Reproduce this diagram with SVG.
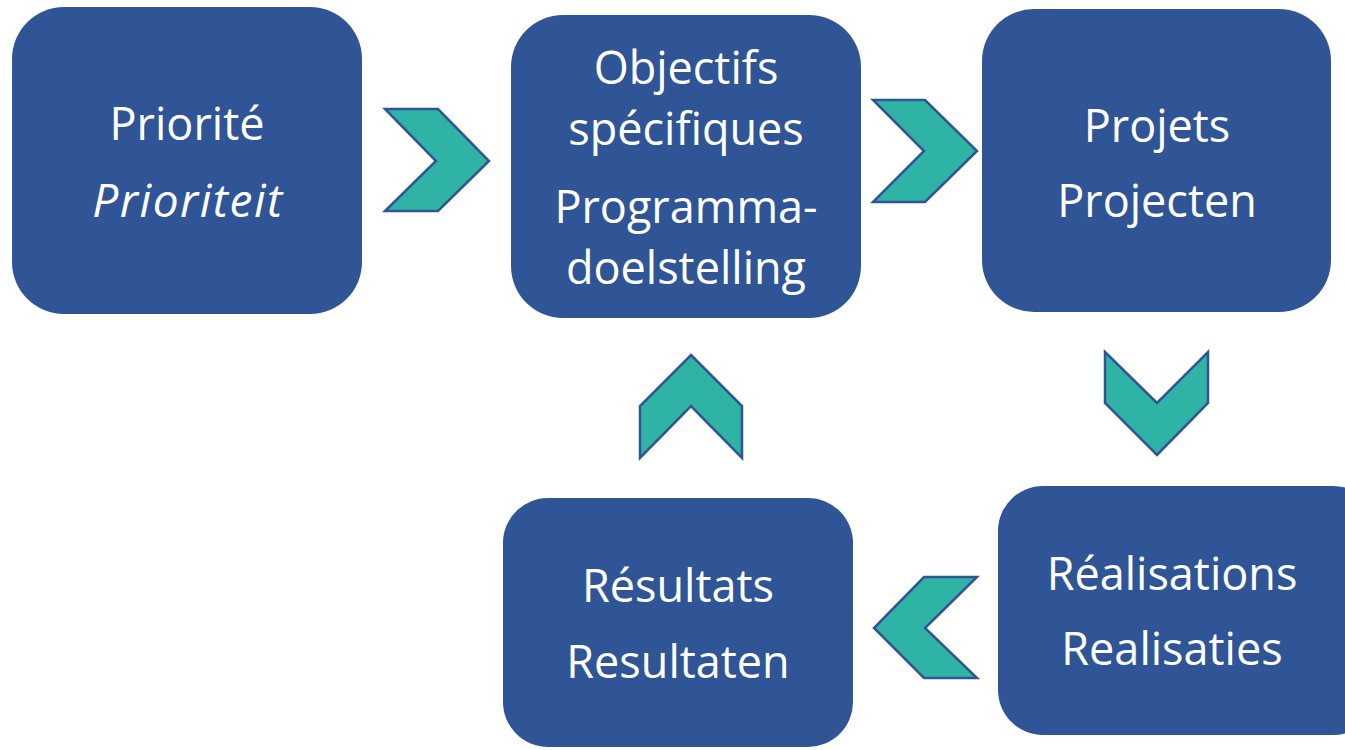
<svg xmlns="http://www.w3.org/2000/svg" width="1345" height="750" viewBox="0 0 1345 750">
<style>
.box{fill:#2F5597;}
.chev{fill:#2FB3A5;stroke:#2F5597;stroke-width:2.5;stroke-linejoin:miter;}
.t{font-family:"Open Sans","Liberation Sans",sans-serif;font-size:45px;fill:#FFFFFF;text-anchor:middle;}
.i{font-style:italic;font-size:46px;letter-spacing:1.5px;}
</style>
<rect width="1345" height="750" fill="#FFFFFF"/>
<g id="node-priorite">
<rect class="box" x="12" y="7" width="350" height="307" rx="52"/>
<text class="t" x="187" y="140">Priorité</text>
<text class="t i" x="188" y="217">Prioriteit</text>
</g>
<g id="node-objectifs">
<rect class="box" x="511" y="15" width="350" height="303" rx="52"/>
<text class="t" x="686" y="84">Objectifs</text>
<text class="t" x="686" y="145">spécifiques</text>
<text class="t" x="686" y="223">Programma-</text>
<text class="t" x="686" y="284">doelstelling</text>
</g>
<g id="node-projets">
<rect class="box" x="982" y="9" width="349" height="303" rx="52"/>
<text class="t" x="1157" y="142">Projets</text>
<text class="t" x="1157" y="217">Projecten</text>
</g>
<g id="node-realisations">
<rect class="box" x="998" y="486" width="380" height="249" rx="45"/>
<text class="t" x="1172" y="590">Réalisations</text>
<text class="t" x="1172" y="665">Realisaties</text>
</g>
<g id="node-resultats">
<rect class="box" x="503" y="498" width="350" height="249" rx="45"/>
<text class="t" x="678" y="602">Résultats</text>
<text class="t" x="678" y="678">Resultaten</text>
</g>
<g id="connectors">
<polygon class="chev" points="385,109 438,109 489,161 438,211 385,211 436,161"/>
<polygon class="chev" points="873,100 925,100 977,151 925,202 873,202 924,151"/>
<polygon class="chev" points="1105,352 1157,403 1208,352 1208,403 1157,455 1105,403"/>
<polygon class="chev" points="977,577 924,577 874,628 924,678 977,678 925,628"/>
<polygon class="chev" points="691,355 742,406 742,458 691,406 640,458 640,406"/>
</g>
</svg>
